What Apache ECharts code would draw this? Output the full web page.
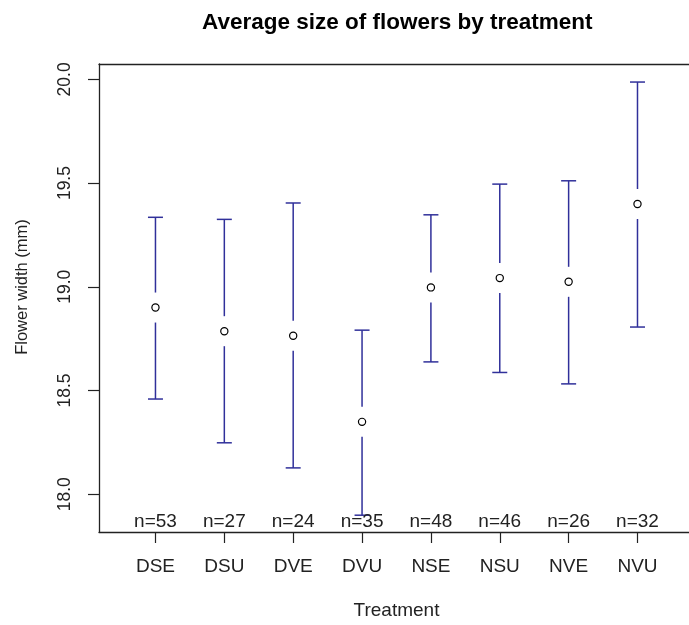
<!DOCTYPE html>
<html>
<head>
<meta charset="utf-8">
<script src="https://cdn.jsdelivr.net/npm/echarts@6/dist/echarts.min.js"></script>
<style>html,body{margin:0;padding:0;background:#fff}#c{width:689px;height:625px}</style>
</head>
<body>
<div id="c"></div>
<script>
const categories = ['DSE', 'DSU', 'DVE', 'DVU', 'NSE', 'NSU', 'NVE', 'NVU'];
const means = [18.90, 18.786, 18.764, 18.349, 18.997, 19.042, 19.024, 19.399];
const upper = [19.335, 19.325, 19.404, 18.791, 19.347, 19.495, 19.511, 19.987];
const lower = [18.459, 18.248, 18.127, 17.899, 18.638, 18.587, 18.532, 18.806];
const counts = [53, 27, 24, 35, 48, 46, 26, 32];
const yTicks = [18.0, 18.5, 19.0, 19.5, 20.0];

const FONT = 'Liberation Sans, Arial, Helvetica, sans-serif';
const BAR = '#30309a';
const AX = '#222';
const positions = categories.map((c, i) => i + 1);
const data = categories.map((c, i) => [i + 1, means[i], upper[i], lower[i], counts[i]]);
const nLabelY = 17.865;

const chart = echarts.init(document.getElementById('c'), null, {renderer: 'canvas'});
chart.setOption({
  animation: false,
  backgroundColor: '#fff',
  title: {
    text: 'Average size of flowers by treatment',
    left: 197, top: 6,
    textStyle: {fontFamily: FONT, fontWeight: 'bold', fontSize: 22.5, color: '#000'}
  },
  grid: {left: 99, top: 64, right: 0, bottom: 93, containLabel: false},
  xAxis: [{
    type: 'value', min: 0.18, max: 8.748, position: 'bottom',
    name: 'Treatment', nameLocation: 'middle', nameGap: 69,
    nameTextStyle: {fontFamily: FONT, fontSize: 19, color: AX, padding: [0, 0, 0, 5]},
    axisLine: {show: true, onZero: false, lineStyle: {color: AX, width: 1.3}},
    splitLine: {show: false},
    axisTick: {show: true, inside: false, length: 11, customValues: positions, lineStyle: {color: AX, width: 1.2}},
    axisLabel: {customValues: positions, margin: 25, fontFamily: FONT, fontSize: 19, color: AX,
      formatter: v => categories[Math.round(v) - 1] || ''}
  }, {
    type: 'value', min: 0.18, max: 8.748, position: 'top',
    axisLine: {show: true, onZero: false, lineStyle: {color: AX, width: 1.3}},
    axisTick: {show: false}, axisLabel: {show: false}, splitLine: {show: false}
  }],
  yAxis: {
    type: 'value', min: 17.818, max: 20.074,
    name: 'Flower width (mm)', nameLocation: 'middle', nameGap: 68,
    nameTextStyle: {fontFamily: FONT, fontSize: 16.5, color: AX, padding: [0, 0, 0, 22]},
    axisLine: {show: true, onZero: false, lineStyle: {color: AX, width: 1.3}},
    splitLine: {show: false},
    axisTick: {show: true, length: 11, customValues: yTicks, lineStyle: {color: AX, width: 1.2}},
    axisLabel: {customValues: yTicks, rotate: 90, margin: 25, fontFamily: FONT, fontSize: 17.5, color: AX,
      formatter: v => v.toFixed(1)}
  },
  series: [{
    type: 'custom',
    xAxisIndex: 0,
    data: data,
    encode: {x: 0, y: [1, 2, 3]},
    renderItem: function (params, api) {
      const x = api.value(0);
      const m = api.coord([x, api.value(1)]);
      const hi = api.coord([x, api.value(2)]);
      const lo = api.coord([x, api.value(3)]);
      const nPos = api.coord([x, nLabelY]);
      const gap = 15, cap = 7.5;
      const ls = {stroke: BAR, lineWidth: 1.5};
      const children = [
        {type: 'line', shape: {x1: m[0], y1: hi[1], x2: m[0], y2: Math.min(m[1] - gap, lo[1])}, style: ls},
        {type: 'line', shape: {x1: m[0], y1: Math.max(m[1] + gap, hi[1]), x2: m[0], y2: lo[1]}, style: ls},
        {type: 'line', shape: {x1: m[0] - cap, y1: hi[1], x2: m[0] + cap, y2: hi[1]}, style: ls},
        {type: 'line', shape: {x1: m[0] - cap, y1: lo[1], x2: m[0] + cap, y2: lo[1]}, style: ls},
        {type: 'circle', shape: {cx: m[0], cy: m[1], r: 3.6}, style: {fill: '#fff', stroke: '#000', lineWidth: 1.2}},
        {type: 'text', x: nPos[0], y: nPos[1], style: {text: 'n=' + api.value(4), fontFamily: FONT, fontSize: 19, fill: AX, align: 'center', verticalAlign: 'middle'}}
      ];
      return {type: 'group', children: children};
    }
  }]
});
</script>
</body>
</html>
